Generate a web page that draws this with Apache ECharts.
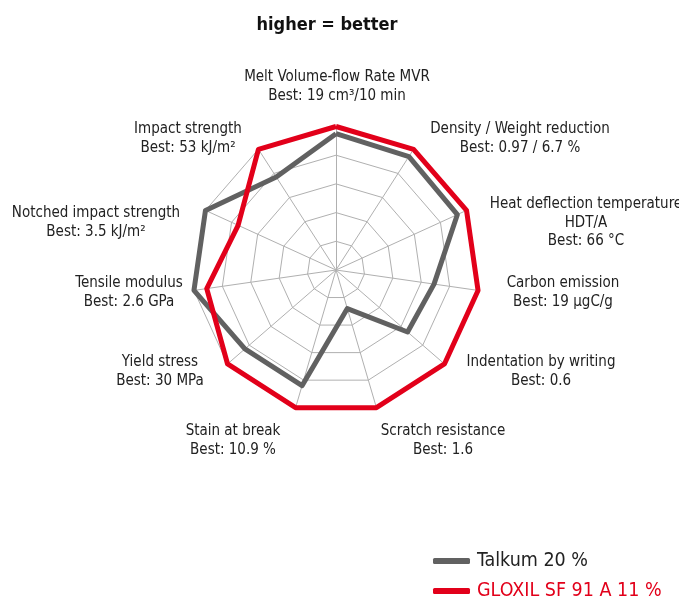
<!DOCTYPE html>
<html>
<head>
<meta charset="utf-8">
<script src="https://cdn.jsdelivr.net/npm/echarts@6/dist/echarts.min.js"></script>
<style>
  html, body { margin: 0; padding: 0; background: #fff; }
  #main { width: 679px; height: 599px; }
</style>
</head>
<body>
<div id="main"></div>
<script>
// axes, clockwise from the top
var axisNames = [
  'Melt Volume-flow Rate MVR\nBest: 19 cm³/10 min',
  'Density / Weight reduction\nBest: 0.97 / 6.7 %',
  'Heat deflection temperature\nHDT/A\nBest: 66 °C',
  'Carbon emission\nBest: 19 µgC/g',
  'Indentation by writing\nBest: 0.6',
  'Scratch resistance\nBest: 1.6',
  'Stain at break\nBest: 10.9 %',
  'Yield stress\nBest: 30 MPa',
  'Tensile modulus\nBest: 2.6 GPa',
  'Notched impact strength\nBest: 3.5 kJ/m²',
  'Impact strength\nBest: 53 kJ/m²'
];
var seriesNames = ['Talkum 20 %', 'GLOXIL SF 91 A 11 %'];
// relative score, 100 = best
var talkum = [95, 94, 93, 69, 66, 28, 84, 84, 100, 100, 77];
var gloxil = [100, 100, 100, 100, 100, 100, 100, 100, 91, 75, 100];

// label placement (block centre x, first line centre y)
var labelPos = [
  [337, 77], [520, 129], [586, 204], [563, 283], [541, 362], [443, 431],
  [233, 431], [160, 362], [129, 283], [96, 213], [188, 129]
];

var font = '"Liberation Sans Narrow", "DejaVu Sans Condensed", sans-serif';
var grey = '#616161', red = '#e2001a', gridColor = '#b0b0b0';

// echarts lays radar indicators out counter-clockwise, so flip the order
function cw(arr) { return [arr[0]].concat(arr.slice(1).reverse()); }

var chart = echarts.init(document.getElementById('main'));

var labels = axisNames.map(function (t, i) {
  return {
    type: 'text',
    x: labelPos[i][0],
    y: labelPos[i][1] - 9,
    style: {
      text: t,
      fill: '#222',
      font: '15px ' + font,
      lineHeight: 18.5,
      textAlign: 'center',
      textVerticalAlign: 'top'
    }
  };
});

function legendAt(name, top, color) {
  return {
    left: 428,
    top: top,
    itemWidth: 37,
    itemHeight: 6,
    icon: 'roundRect',
    textStyle: { fontFamily: font, fontSize: 19.5, color: color, padding: [0, 0, 0, 2] },
    data: [name]
  };
}

var option = {
  backgroundColor: '#fff',
  title: {
    text: 'higher = better',
    left: 322,
    top: 11,
    textAlign: 'center',
    textStyle: { fontFamily: font, fontSize: 18, fontWeight: 'bold', color: '#111' }
  },
  legend: [
    legendAt(seriesNames[0], 546, '#222'),
    legendAt(seriesNames[1], 576, red)
  ],
  radar: {
    center: [336, 270],
    radius: 143.5,
    startAngle: 90,
    splitNumber: 5,
    shape: 'polygon',
    indicator: cw(axisNames).map(function (n) { return { name: n, min: 0, max: 100 }; }),
    axisName: { show: false },
    axisLine: { lineStyle: { color: gridColor, width: 1 } },
    splitLine: { lineStyle: { color: gridColor, width: 1 } },
    splitArea: { show: false }
  },
  series: [{
    type: 'radar',
    symbol: 'none',
    data: [
      { name: seriesNames[0], value: cw(talkum),
        lineStyle: { color: grey, width: 5 }, itemStyle: { color: grey } },
      { name: seriesNames[1], value: cw(gloxil),
        lineStyle: { color: red, width: 5 }, itemStyle: { color: red } }
    ]
  }],
  graphic: labels
};
chart.setOption(option);
</script>
</body>
</html>
